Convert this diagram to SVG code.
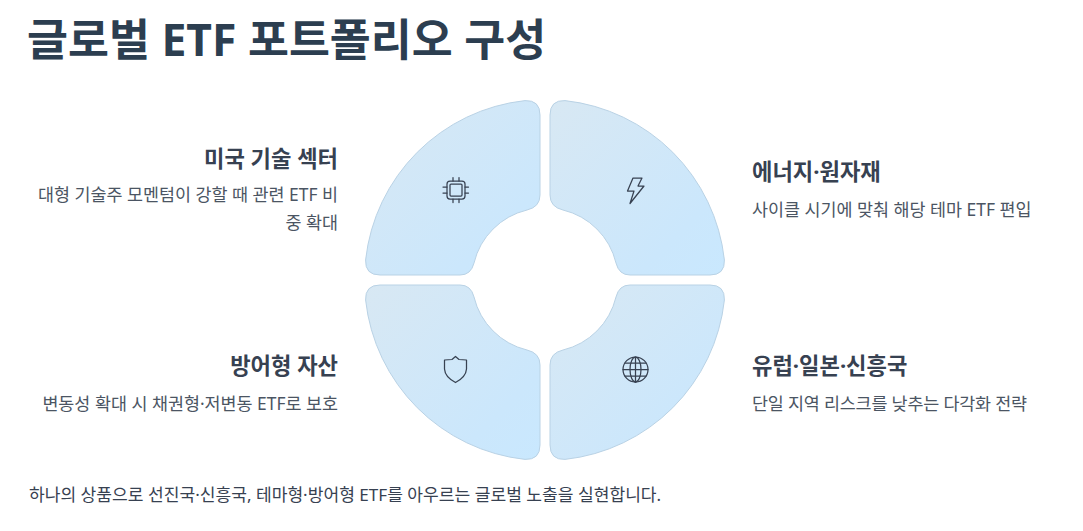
<svg xmlns="http://www.w3.org/2000/svg" width="1083" height="531" viewBox="0 0 1083 531">
<style>
text{font-family:"Noto Sans","Noto Sans CJK KR",sans-serif}
.title{font-size:44.500px;font-weight:700;fill:#2c3e50}
.h{font-size:22.200px;font-weight:700;fill:#374151}
.d{font-size:17.400px;fill:#4b5563}
.foot{font-size:17.100px;fill:#374151}
.seg{fill:url(#g);stroke:#b9d2e5;stroke-width:1}
.ic{fill:none;stroke:#374151;stroke-width:1.25;stroke-linejoin:round;stroke-linecap:round}
</style>
<defs>
<linearGradient id="g" x1="0" y1="0" x2="1" y2="1"><stop offset="0" stop-color="#d8e8f3"/><stop offset="0.75" stop-color="#cbe7fc"/><stop offset="1" stop-color="#c9e8fe"/></linearGradient>
</defs>
<rect width="1083" height="531" fill="#ffffff"/>
<text class="title" x="27" y="56">글로벌 ETF 포트폴리오 구성</text>
<g id="connectors"></g>
<g id="node-tl">
<path class="seg" d="M525 100.600A180 180 0 0 0 365.600 260Q365 275 380 275H460Q471 275 474 263A72 72 0 0 1 527 210Q540 207 540 195V115Q540 100 525 100.600Z"/>
<g class="ic"><rect x="447" y="181" width="18" height="18" rx="3"/><rect x="450" y="184" width="12" height="12" rx="1"/><path d="M453 177.500V181M459 177.500V181M453 199V202.500M459 199V202.500M443 187H447M443 193H447M465 187H468.500M465 193H468.500"/></g>
<text class="h" x="338" y="167" text-anchor="end">미국 기술 섹터</text>
<text class="d" x="338" y="201" text-anchor="end">대형 기술주 모멘텀이 강할 때 관련 ETF 비</text>
<text class="d" x="338" y="229" text-anchor="end">중 확대</text>
</g>
<g id="node-tr">
<path class="seg" d="M565 100.600A180 180 0 0 1 724.400 260Q725 275 710 275H630Q619 275 616 263A72 72 0 0 0 563 210Q550 207 550 195V115Q550 100 565 100.600Z"/>
<path class="ic" d="M633 178H642L638 186H644L630 203.500L634 191H627.500Z"/>
<text class="h" x="752" y="180">에너지·원자재</text>
<text class="d" x="752" y="216">사이클 시기에 맞춰 해당 테마 ETF 편입</text>
</g>
<g id="node-bl">
<path class="seg" d="M525 459.400A180 180 0 0 1 365.600 300Q365 285 380 285H460Q471 285 474 297A72 72 0 0 0 527 350Q540 353 540 365V445Q540 460 525 459.400Z"/>
<path class="ic" d="M455.500 356.500L459 359.500L466.500 360V369Q466 377 455.500 382.500Q445 377 444.500 369V360L452 359.500Z"/>
<text class="h" x="338" y="374" text-anchor="end">방어형 자산</text>
<text class="d" x="338" y="410" text-anchor="end">변동성 확대 시 채권형·저변동 ETF로 보호</text>
</g>
<g id="node-br">
<path class="seg" d="M565 459.400A180 180 0 0 0 724.400 300Q725 285 710 285H630Q619 285 616 297A72 72 0 0 1 563 350Q550 353 550 365V445Q550 460 565 459.400Z"/>
<g class="ic"><circle cx="635.500" cy="369.500" r="12.500"/><ellipse cx="635.500" cy="369.500" rx="5.500" ry="12.500"/><path d="M635.500 357V382M623 369.500H648M625 363H646M625 376H646"/></g>
<text class="h" x="752" y="374">유럽·일본·신흥국</text>
<text class="d" x="752" y="410" textLength="275">단일 지역 리스크를 낮추는 다각화 전략</text>
</g>
<text class="foot" x="29" y="501">하나의 상품으로 선진국·신흥국, 테마형·방어형 ETF를 아우르는 글로벌 노출을 실현합니다.</text>
</svg>
